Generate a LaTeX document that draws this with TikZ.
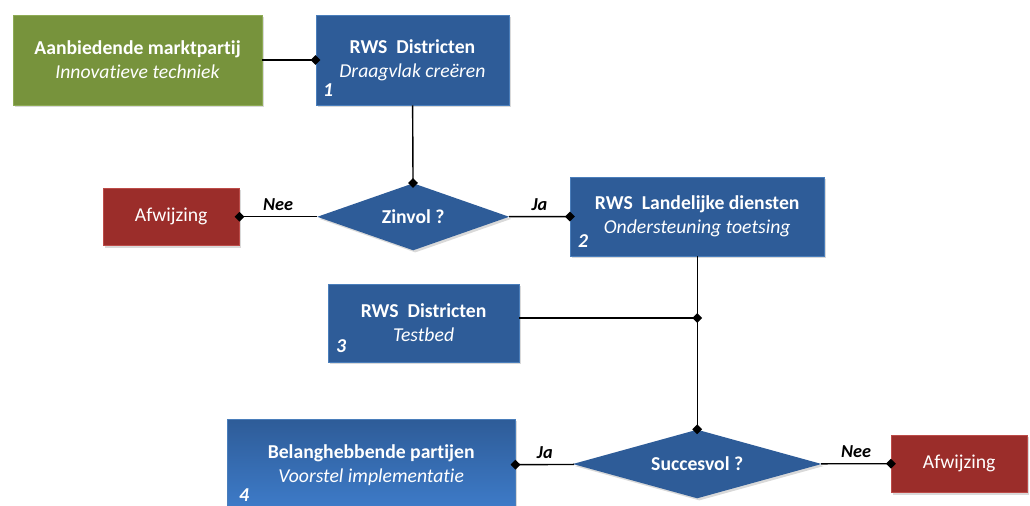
\documentclass[tikz,border=0pt]{standalone}
\usepackage{fontspec}
\setmainfont{Carlito}[Ligatures=NoCommon]
\usetikzlibrary{arrows.meta, shapes.geometric, shadows}

\definecolor{rwsblue}{HTML}{2E5C98}
\definecolor{rwslight}{HTML}{3E7CCA}
\definecolor{rwsline}{HTML}{4A7EBB}
\definecolor{offergreen}{HTML}{77933C}
\definecolor{offerline}{HTML}{8EAB55}
\definecolor{rejectred}{HTML}{9B2D2A}
\definecolor{rejectline}{HTML}{BC4B48}

\tikzset{
    shade box/.style={drop shadow={opacity=0.3, shadow xshift=1.5pt, shadow yshift=-1.5pt}},
    stepbox/.style={shade box, rectangle, draw=rwsline, fill=rwsblue, text=white, align=center,
        inner sep=0pt, font=\fontsize{14}{17}\selectfont},
    offerbox/.style={stepbox, draw=offerline, fill=offergreen},
    rejectbox/.style={shade box, rectangle, draw=rejectline, fill=rejectred, text=white,
        minimum width=3.4cm, minimum height=1.44cm, font=\fontsize{14}{17}\selectfont},
    question/.style={shade box, diamond, fill=rwsblue, text=white, inner sep=0pt,
        font=\fontsize{14}{17}\selectfont\bfseries},
    stepnum/.style={text=white, anchor=south west, inner sep=0pt, font=\fontsize{14}{17}\selectfont\bfseries\itshape},
    answer/.style={above, inner sep=4pt, font=\fontsize{13}{15}\selectfont\bfseries\itshape},
    conn/.style={line width=1pt, -{Diamond[length=7pt, width=7pt]}, shorten >=-3.5pt},
}

\begin{document}
\begin{tikzpicture}
            \useasboundingbox (0, 0) rectangle (25.75, 12.65);
            % eerste rij
            \node[offerbox, minimum width=6.22cm, minimum height=2.25cm] (offer) at (3.44, 11.15)
                {\textbf{Aanbiedende marktpartij}\\\textit{Innovatieve techniek}};
            \node[stepbox, minimum width=4.83cm, minimum height=2.25cm] (district) at (10.31, 11.15)
                {\textbf{RWS\ \ Districten}\\\textit{Draagvlak creëren}};
            \node[stepnum] at ([shift={(0.18, 0.22)}]district.south west) {1};
            % eerste beslissing
            \node[question, minimum width=4.8cm, minimum height=1.68cm, aspect=2.86] (zinvol) at (10.33, 7.23) {Zinvol ?};
            \node[rejectbox] (reject) at (4.28, 7.23) {Afwijzing};
            \node[stepbox, minimum width=6.35cm, minimum height=1.98cm] (landelijk) at (17.43, 7.24)
                {\textbf{RWS\ \ Landelijke diensten}\\\textit{Ondersteuning toetsing}};
            \node[stepnum] at ([shift={(0.2, 0.22)}]landelijk.south west) {2};
            % testbed
            \node[stepbox, minimum width=4.78cm, minimum height=1.95cm] (testbed) at (10.59, 4.58)
                {\textbf{RWS\ \ Districten}\\\textit{Testbed}};
            \node[stepnum] at ([shift={(0.2, 0.22)}]testbed.south west) {3};
            \coordinate (junction) at (17.43, 4.7);
            % tweede beslissing
            \node[question, minimum width=6.22cm, minimum height=1.72cm, aspect=3.6] (succes) at (17.43, 1.05) {Succesvol ?};
            \node[stepbox, minimum width=7.2cm, minimum height=2.3cm, top color=rwsblue, middle color=rwsblue,
                bottom color=rwslight] (partijen) at (9.28, 1.02)
                {\textbf{Belanghebbende partijen}\\\textit{Voorstel implementatie}};
            \node[stepnum] at ([shift={(0.3, 0.1)}]partijen.south west |- 0, 0) {4};
            \node[rejectbox] (rejectend) at (23.98, 1.06) {Afwijzing};
            % verbindingen
            \draw[conn] (offer) -- (district);
            \draw[conn] (district) -- (zinvol);
            \draw[conn] (zinvol) -- (reject) node[answer, midway] {Nee};
            \draw[conn] (zinvol) -- (landelijk) node[answer, midway] {Ja};
            \draw[conn] (landelijk) -- (succes);
            \draw[conn] (testbed.east |- junction) -- (junction);
            \draw[conn] (succes) -- (partijen) node[answer, midway] {Ja};
            \draw[conn] (succes) -- (rejectend) node[answer, midway] {Nee};
        \end{tikzpicture}
\end{document}
